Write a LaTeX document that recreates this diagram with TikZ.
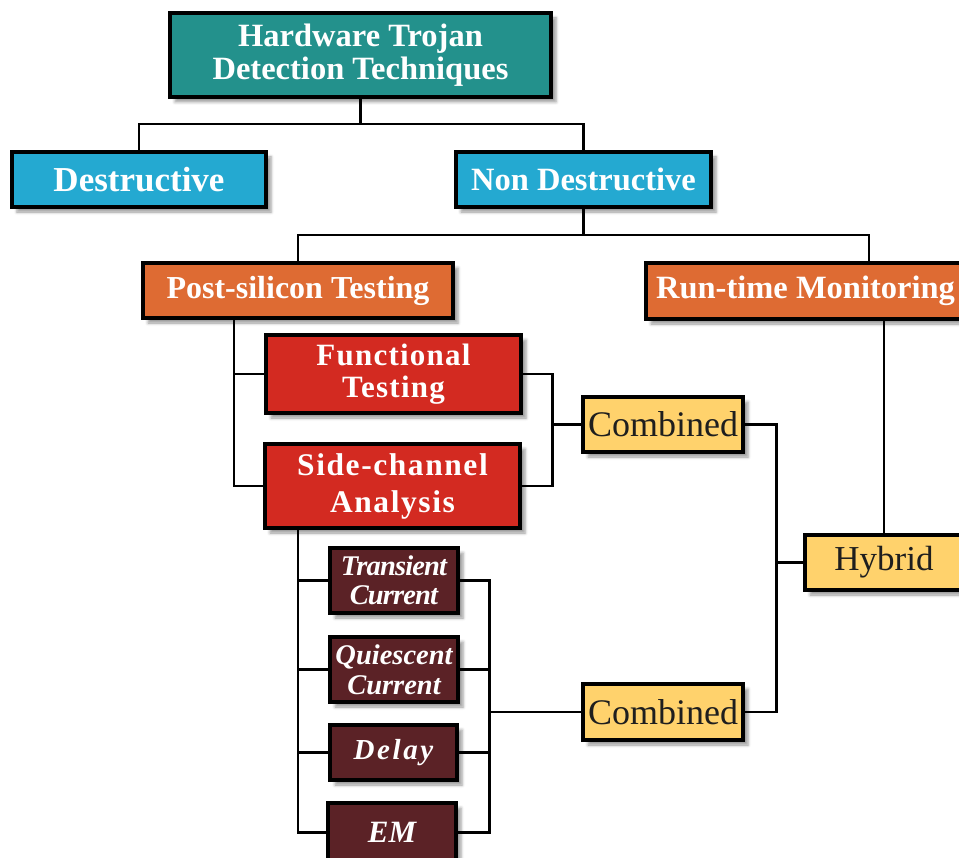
\documentclass[tikz,border=0pt]{standalone}
\usepackage{fontspec}
\setmainfont{Liberation Serif}
\newfontfamily\spacedserif[LetterSpace=4]{Liberation Serif}
\newfontfamily\sidespaced[LetterSpace=5]{Liberation Serif}
\newfontfamily\widespaced[LetterSpace=9]{Liberation Serif}
\newfontfamily\tightserif[LetterSpace=-3]{Liberation Serif}
\usetikzlibrary{shadows.blur}

\definecolor{cTeal}{HTML}{23918C}
\definecolor{cBlue}{HTML}{24A9D1}
\definecolor{cOrange}{HTML}{DE6B33}
\definecolor{cRed}{HTML}{D32A21}
\definecolor{cBrown}{HTML}{5B2226}
\definecolor{cYellow}{HTML}{FFD26C}
\definecolor{cInk}{HTML}{1E1E1E}

\tikzset{
  box/.style={draw=black, line width=3.2pt, inner sep=0pt, align=center,
    text=white,
    blur shadow={shadow xshift=5pt, shadow yshift=-5pt,
                 shadow blur radius=3pt, shadow opacity=40}},
  rootbox/.style={box, fill=cTeal},
  classbox/.style={box, fill=cBlue},
  phasebox/.style={box, fill=cOrange},
  methodbox/.style={box, fill=cRed},
  channelbox/.style={box, fill=cBrown},
  mixbox/.style={box, fill=cYellow, text=cInk},
  link/.style={draw=black, line width=2.6pt, line cap=rect},
}

\begin{document}
\begin{tikzpicture}[x=1pt, y=-1pt]
  \useasboundingbox (0,0) rectangle (959,858);
  \clip (0,0) rectangle (959,858);

  % tree of detection techniques
  \node[rootbox, minimum width=381, minimum height=84,
        font={\bfseries\fontsize{32.5}{33.5}\selectfont}] (root) at (360.5,55)
    {Hardware Trojan\\Detection Techniques};

  \node[classbox, minimum width=254, minimum height=55,
        font={\bfseries\fontsize{35}{36}\selectfont}] (destr) at (139,179.5)
    {Destructive};
  \node[classbox, minimum width=255, minimum height=55,
        font={\bfseries\fontsize{32.5}{36}\selectfont}] (nondes) at (583.5,179.5)
    {Non Destructive};

  \node[phasebox, minimum width=310, minimum height=55,
        font={\bfseries\fontsize{32}{34}\selectfont}] (post) at (298,290.5)
    {Post-silicon Testing};
  \node[phasebox, minimum width=319, minimum height=56,
        font={\bfseries\fontsize{32.5}{34}\selectfont}] (runtime) at (805.5,291)
    {Run-time Monitoring};

  \node[methodbox, minimum width=255, minimum height=78,
        font={\spacedserif\bfseries\fontsize{31}{32}\selectfont}] (func) at (393.5,374)
    {Functional\\Testing};
  \node[methodbox, minimum width=255, minimum height=84,
        font={\sidespaced\bfseries\fontsize{31.5}{37}\selectfont}] (side) at (392.5,486)
    {Side-channel\\Analysis};

  \node[channelbox, minimum width=128, minimum height=65,
        font={\tightserif\bfseries\itshape\fontsize{28.5}{29}\selectfont}] (trans) at (394,580.5)
    {Transient\\Current};
  \node[channelbox, minimum width=128, minimum height=65,
        font={\bfseries\itshape\fontsize{28.5}{30}\selectfont}] (quies) at (394,669.5)
    {Quiescent\\Current};
  \node[channelbox, minimum width=127, minimum height=55,
        font={\widespaced\bfseries\itshape\fontsize{29}{30}\selectfont}] (delay) at (393.5,752.5)
    {Delay};
  \node[channelbox, minimum width=128, minimum height=59,
        font={\bfseries\itshape\fontsize{31}{30}\selectfont}] (em) at (392,832.5)
    {EM};

  \node[mixbox, minimum width=160, minimum height=55,
        font={\fontsize{36}{36}\selectfont}] (comb1) at (663,424.5)
    {Combined};
  \node[mixbox, minimum width=160, minimum height=56,
        font={\fontsize{36}{36}\selectfont}] (comb2) at (663,712)
    {Combined};
  \node[mixbox, minimum width=158, minimum height=55,
        font={\fontsize{35}{36}\selectfont}] (hybrid) at (884,562.5)
    {Hybrid};

  % connectors
  \coordinate (bus1) at (0,124);
  \coordinate (bus2) at (0,235);
  \path[link] (root.south) -- (root.south |- bus1);
  \path[link] (destr.north) |- (bus1 -| nondes.north) -- (nondes.north);

  \coordinate (rtin) at ([xshift=63.5pt]runtime.north);
  \path[link] (nondes.south) -- (nondes.south |- bus2);
  \path[link] (post.north) |- (bus2 -| rtin) -- (rtin);

  \coordinate (ps) at ([xshift=-64pt]post.south);
  \path[link] (ps) |- (side.west);
  \path[link] (func.west) -- (func.west -| ps);

  \path[link] (func.east) -- ++(30,0) coordinate (fr) |- (side.east);
  \path[link] (comb1.west) -- (comb1.west -| fr);

  \coordinate (ss) at ([xshift=-94.5pt]side.south);
  \path[link] (ss) |- (em.west);
  \path[link] (trans.west) -- (trans.west -| ss);
  \path[link] (quies.west) -- (quies.west -| ss);
  \path[link] (delay.west) -- (delay.west -| ss);

  \path[link] (trans.east) -- ++(30,0) coordinate (cr) |- (em.east);
  \path[link] (quies.east) -- (quies.east -| cr);
  \path[link] (delay.east) -- (delay.east -| cr);
  \path[link] (comb2.west) -- (comb2.west -| cr);

  \path[link] (comb1.east) -- ++(32,0) coordinate (hr) |- (comb2.east);
  \path[link] (hybrid.west) -- (hybrid.west -| hr);

  \path[link] (hybrid.north) -- (hybrid.north |- runtime.south);
\end{tikzpicture}
\end{document}
